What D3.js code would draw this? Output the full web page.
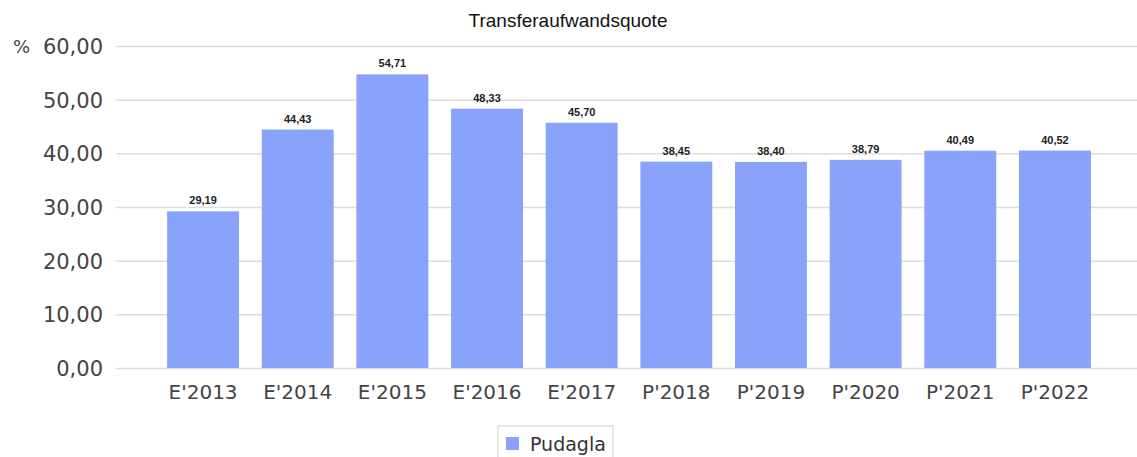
<!DOCTYPE html>
<html>
<head>
<meta charset="utf-8">
<script src="https://cdn.jsdelivr.net/npm/d3@7"></script>
<style>
  body { margin: 0; background: #fff; }
  svg { display: block; }
</style>
</head>
<body>
<script>
// chart data
const categories = ["E'2013", "E'2014", "E'2015", "E'2016", "E'2017", "P'2018", "P'2019", "P'2020", "P'2021", "P'2022"];
const values = [29.19, 44.43, 54.71, 48.33, 45.70, 38.45, 38.40, 38.79, 40.49, 40.52];
const yTicks = [0, 10, 20, 30, 40, 50, 60];
const seriesName = "Pudagla";
const title = "Transferaufwandsquote";

const W = 1137, H = 457;
const barColor = "#88a3f9";
const fmt = v => d3.format(".2f")(v).replace(".", ",");

const svg = d3.select("body").append("svg")
    .attr("width", W)
    .attr("height", H);

// scales
const xScale = d3.scaleBand()
    .domain(categories)
    .range([116, 1142])
    .paddingInner(0.24)
    .paddingOuter(0.54);
const yScale = d3.scaleLinear()
    .domain([0, 60])
    .range([368, 46]);

// gridlines
svg.append("g")
    .selectAll("line")
    .data(yTicks)
    .enter().append("line")
    .attr("x1", 116)
    .attr("x2", W)
    .attr("y1", d => yScale(d) + 0.5)
    .attr("y2", d => yScale(d) + 0.5)
    .attr("stroke", "#dcdcdc")
    .attr("stroke-width", 1.5);

// y axis labels
const yAxis = d3.axisLeft(yScale).tickValues(yTicks).tickFormat(fmt).tickSize(0).tickPadding(0);
svg.append("g")
    .attr("transform", "translate(103,0)")
    .call(yAxis)
    .call(g => g.select(".domain").remove())
    .selectAll("text")
    .attr("font-family", "DejaVu Sans")
    .attr("font-size", 21)
    .attr("fill", "#444")
    .attr("dy", "0.36em");

svg.append("text")
    .attr("x", 13)
    .attr("y", 53)
    .attr("font-family", "DejaVu Sans")
    .attr("font-size", 18)
    .attr("fill", "#444")
    .text("%");

// bars
svg.append("g")
    .selectAll("rect")
    .data(values)
    .enter().append("rect")
    .attr("x", (d, i) => xScale(categories[i]))
    .attr("y", d => yScale(d))
    .attr("width", xScale.bandwidth())
    .attr("height", d => yScale(0) - yScale(d))
    .attr("fill", barColor);

// value labels
svg.append("g")
    .selectAll("text")
    .data(values)
    .enter().append("text")
    .attr("x", (d, i) => xScale(categories[i]) + xScale.bandwidth() / 2)
    .attr("y", d => yScale(d) - 7)
    .attr("text-anchor", "middle")
    .attr("font-family", "Liberation Sans")
    .attr("font-weight", "bold")
    .attr("font-size", 11)
    .attr("fill", "#222")
    .text(fmt);

// x axis labels
const xAxis = d3.axisBottom(xScale).tickSize(0).tickPadding(0);
svg.append("g")
    .attr("transform", "translate(0,385)")
    .call(xAxis)
    .call(g => g.select(".domain").remove())
    .selectAll("text")
    .attr("font-family", "DejaVu Sans")
    .attr("font-size", 20)
    .attr("fill", "#444");

// title
svg.append("text")
    .attr("x", 568)
    .attr("y", 27)
    .attr("text-anchor", "middle")
    .attr("font-family", "Liberation Sans")
    .attr("font-size", 19)
    .attr("fill", "#111")
    .text(title);

// legend
const legend = svg.append("g").attr("transform", "translate(498,426)");
legend.append("rect")
    .attr("width", 115)
    .attr("height", 40)
    .attr("fill", "#fff")
    .attr("stroke", "#d0d0d0");
legend.append("rect")
    .attr("x", 8)
    .attr("y", 11)
    .attr("width", 13)
    .attr("height", 13)
    .attr("fill", barColor);
legend.append("text")
    .attr("x", 32)
    .attr("y", 25)
    .attr("font-family", "DejaVu Sans")
    .attr("font-size", 19)
    .attr("fill", "#333")
    .text(seriesName);
</script>
</body>
</html>
